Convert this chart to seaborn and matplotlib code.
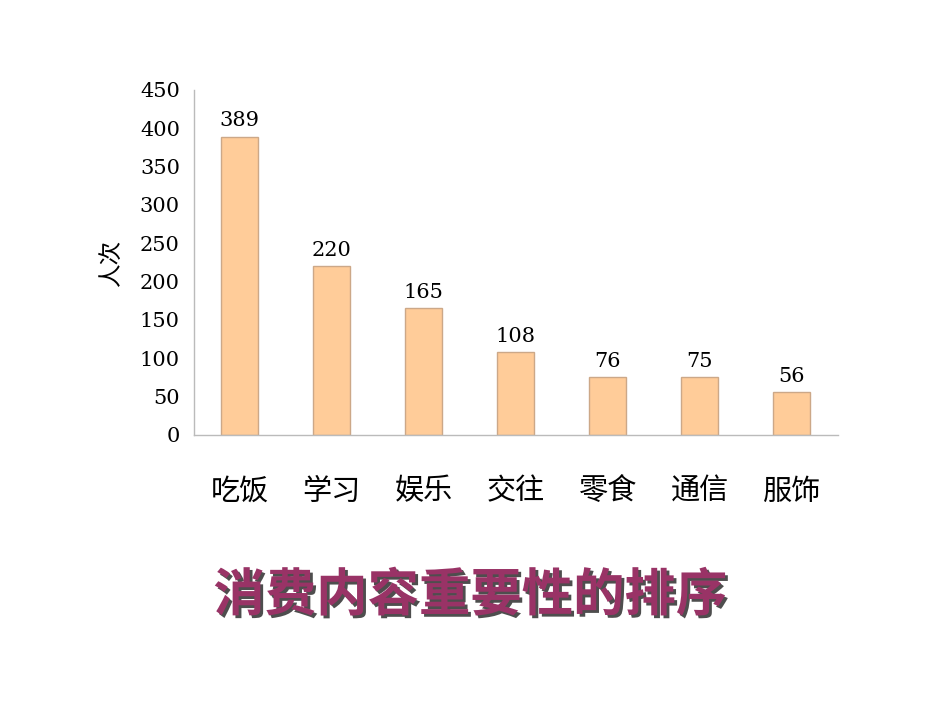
import matplotlib
matplotlib.use('Agg')
import matplotlib.pyplot as plt
import matplotlib.patheffects as pe
import seaborn as sns
import numpy as np

# 数据
categories = ['吃饭', '学习', '娱乐', '交往', '零食', '通信', '服饰']
counts = [389, 220, 165, 108, 76, 75, 56]
y_ticks = [0, 50, 100, 150, 200, 250, 300, 350, 400, 450]

sns.set_style('white')
plt.rcParams['font.family'] = ['Noto Sans CJK SC', 'DejaVu Sans']
plt.rcParams['text.color'] = 'black'
plt.rcParams['xtick.labelcolor'] = 'black'
plt.rcParams['ytick.labelcolor'] = 'black'
plt.rcParams['axes.labelcolor'] = 'black'

fig = plt.figure(figsize=(9.5, 7.13), dpi=100)
ax = fig.add_axes([0.204, 0.39, 0.678, 0.484])

sns.barplot(x=categories, y=counts, order=categories, color='#FFCC99',
            edgecolor='#CCA888', linewidth=1, width=0.4, saturation=1, ax=ax)

ax.set_xlim(-0.5, len(categories) - 0.5)
ax.set_ylim(0, 450)
ax.set_yticks(y_ticks)
ax.set_yticklabels([str(t) for t in y_ticks], family='DejaVu Serif', fontsize=15)

# 类别间的刻度线
ax.set_xticks(np.arange(len(categories) + 1) - 0.5, minor=True)
ax.tick_params(axis='x', which='minor', direction='in', length=12, color='#BBBBBB', width=1)
ax.tick_params(axis='x', which='major', length=0, pad=30, labelsize=21)
ax.tick_params(axis='y', direction='in', length=9, color='#BBBBBB', width=1, pad=10)

for s in ['top', 'right']:
    ax.spines[s].set_visible(False)
for s in ['left', 'bottom']:
    ax.spines[s].set_color('#BBBBBB')
    ax.spines[s].set_linewidth(1)

ax.set_xlabel('')
ax.set_ylabel('人次', fontsize=17, labelpad=12)

# 数值标签
for i, v in enumerate(counts):
    ax.text(i, v + 8, str(v), ha='center', va='bottom', family='DejaVu Serif', fontsize=15)

# 标题
fig.text(0.495, 0.165, '消费内容重要性的排序', ha='center', va='center', fontsize=37,
         fontweight='bold', color='#993366',
         path_effects=[pe.withSimplePatchShadow(offset=(2, -2), shadow_rgbFace='#222222', alpha=0.8)])

plt.savefig('out.png', dpi=100)
